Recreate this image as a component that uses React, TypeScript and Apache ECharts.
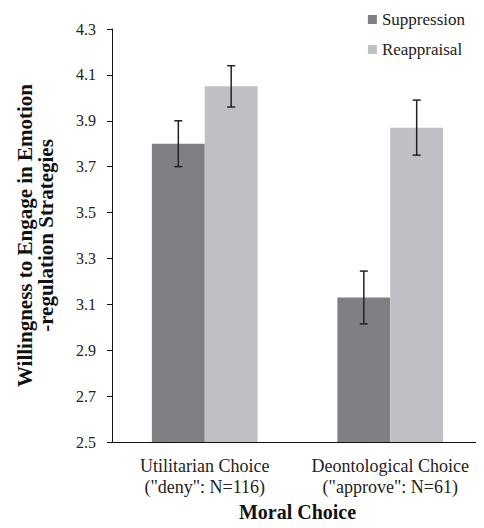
import React, { useEffect, useRef } from "react";
import * as echarts from "echarts";

const categories = ['Utilitarian Choice\n("deny": N=116)', 'Deontological Choice\n("approve": N=61)'];
const seriesNames = ["Suppression", "Reappraisal"];
const suppression = [3.80, 3.13];
const reappraisal = [4.05, 3.87];
const suppressionErr = [0.10, 0.115];
const reappraisalErr = [0.09, 0.12];
const yTicks = { min: 2.5, max: 4.3, interval: 0.2 };

const FONT = "Liberation Serif";
const C_SUP = "#7f8084";
const C_REA = "#bfc0c4";
const CAT_GAP = 0.43; // fraction of band
const BAR_OFFSET = (1 - CAT_GAP) / 4; // fraction of band from center

export default function App() {
  const ref = useRef<HTMLDivElement>(null);
  useEffect(() => {
    if (!ref.current) return;
    const chart = echarts.init(ref.current, null, { renderer: "svg" });
    const errData: any[] = [];
    categories.forEach((_, i) => {
      errData.push([i, suppression[i] - suppressionErr[i], suppression[i] + suppressionErr[i], -1]);
      errData.push([i, reappraisal[i] - reappraisalErr[i], reappraisal[i] + reappraisalErr[i], 1]);
    });
    chart.setOption({
      animation: false,
      textStyle: { fontFamily: FONT },
      grid: { left: 112, right: 1, top: 29, bottom: 86 },
      legend: {
        orient: "vertical",
        right: 14,
        top: 6,
        itemWidth: 9,
        itemHeight: 9,
        itemGap: 13,
        icon: "rect",
        data: seriesNames,
        textStyle: { fontFamily: FONT, fontSize: 17, color: "#222" },
      },
      xAxis: {
        type: "category",
        data: categories,
        axisLine: { lineStyle: { color: "#111", width: 1 } },
        axisTick: { show: false },
        axisLabel: { interval: 0, fontFamily: FONT, fontSize: 18, color: "#222", lineHeight: 21, margin: 13 },
        name: "Moral Choice",
        nameLocation: "middle",
        nameGap: 60,
        nameTextStyle: { fontFamily: FONT, fontSize: 20, fontWeight: "bold", color: "#111" },
      },
      yAxis: {
        type: "value",
        min: yTicks.min,
        max: yTicks.max,
        interval: yTicks.interval,
        axisLine: { show: true, lineStyle: { color: "#111", width: 1 } },
        axisTick: { show: true, length: 5, lineStyle: { color: "#111" } },
        splitLine: { show: false },
        axisLabel: {
          fontFamily: FONT,
          fontSize: 16,
          color: "#222",
          margin: 16,
          formatter: (v: number) => v.toFixed(1),
        },
        name: "Willingness to Engage in Emotion\n-regulation Strategies",
        nameLocation: "middle",
        nameRotate: 90,
        nameGap: 56,
        nameTextStyle: { fontFamily: FONT, fontSize: 21, fontWeight: "bold", color: "#111", lineHeight: 21 },
      },
      series: [
        {
          name: seriesNames[0],
          type: "bar",
          data: suppression,
          itemStyle: { color: C_SUP },
          barGap: "0%",
          barCategoryGap: `${CAT_GAP * 100}%`,
        },
        {
          name: seriesNames[1],
          type: "bar",
          data: reappraisal,
          itemStyle: { color: C_REA },
          barGap: "0%",
          barCategoryGap: `${CAT_GAP * 100}%`,
        },
        {
          type: "custom",
          silent: true,
          z: 10,
          data: errData,
          encode: { x: 0, y: [1, 2] },
          renderItem: (params: any, api: any) => {
            const cat = api.value(0);
            const lo = api.value(1);
            const hi = api.value(2);
            const side = api.value(3);
            const band = api.size([1, 0])[0];
            const pLo = api.coord([cat, lo]);
            const pHi = api.coord([cat, hi]);
            const x = pLo[0] + side * band * BAR_OFFSET;
            const cap = 4;
            const style = { stroke: "#222", lineWidth: 1.5 };
            return {
              type: "group",
              children: [
                { type: "line", shape: { x1: x, y1: pLo[1], x2: x, y2: pHi[1] }, style },
                { type: "line", shape: { x1: x - cap, y1: pHi[1], x2: x + cap, y2: pHi[1] }, style },
                { type: "line", shape: { x1: x - cap, y1: pLo[1], x2: x + cap, y2: pLo[1] }, style },
              ],
            };
          },
        },
      ],
    });
    return () => chart.dispose();
  }, []);
  return <div ref={ref} style={{ width: 484, height: 528, margin: -8 }} />;
}
